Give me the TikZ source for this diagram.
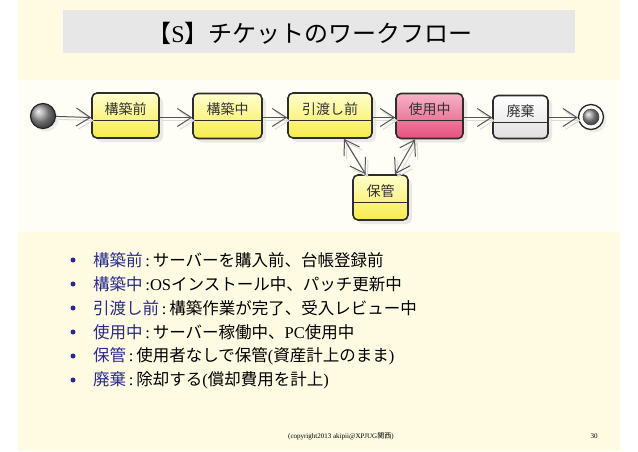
\documentclass[tikz,border=0pt]{standalone}
\usepackage{fontspec}
\setmainfont{Liberation Serif}
\newfontfamily\jp{Noto Sans CJK JP}
\usetikzlibrary{arrows.meta,shadows}
\definecolor{cream}{RGB}{255,251,226}
\definecolor{diagbg}{RGB}{255,254,246}
\definecolor{titlegrey}{RGB}{231,231,231}
\definecolor{lblue}{RGB}{40,42,140}
\definecolor{yeltop}{RGB}{255,255,205}
\definecolor{yelbot}{RGB}{247,235,75}
\definecolor{pinktop}{RGB}{246,178,200}
\definecolor{pinkbot}{RGB}{230,80,125}
\definecolor{edgecol}{RGB}{45,45,45}
\definecolor{arrcol}{RGB}{85,85,85}
\tikzset{
  stbox/.style={draw=edgecol, line width=1.6pt, rounded corners=5pt,
    minimum height=45pt, inner sep=0pt,
    drop shadow={shadow xshift=4pt, shadow yshift=-4pt, fill=black!16}},
  yel/.style={top color=yeltop, bottom color=yelbot},
  pnk/.style={top color=pinktop, bottom color=pinkbot},
  wht/.style={top color=white, bottom color=black!12},
  lbl/.style={font=\jp\fontsize{14}{16}\selectfont, text=black!80, inner sep=0pt},
  divider/.style={draw=edgecol, line width=1pt},
  tip/.tip={Straight Barb[length=14pt,width=18pt,line width=1pt]},
  flow/.style={draw=arrcol, line width=1pt, -tip},
  flowshadow/.style={draw=black!14, line width=1pt, -tip, transform canvas={xshift=2.5pt,yshift=-3pt}},
  item/.style={anchor=west, inner sep=0pt, font=\fontsize{16.5}{18}\selectfont},
  bul/.style={circle, inner sep=0pt, minimum size=5pt, fill=lblue},
}
\begin{document}
\begin{tikzpicture}[x=1pt,y=-1pt]
\useasboundingbox (0,0) rectangle (638,451);
\fill[white] (0,0) rectangle (638,451);
\fill[cream] (18,0) rectangle (620,451);
\fill[titlegrey] (63,10) rectangle (575,53);
\node[inner sep=0pt, font=\fontsize{24}{26}\selectfont] (title) at (310,33)
  {{\jp 【}S{\jp 】チケットのワークフロー}};
\fill[diagbg] (18,80) rectangle (620,232);

% start / end
\node[circle, minimum size=25pt, inner sep=0pt, draw=black!85, line width=1.2pt,
  ball color=black!40, drop shadow={shadow xshift=3pt, shadow yshift=-3pt, fill=black!14}] (s) at (43,116) {};
\node[circle, minimum size=25pt, inner sep=0pt, draw=black!85, line width=1.3pt, fill=white,
  drop shadow={shadow xshift=3pt, shadow yshift=-3pt, fill=black!14}] (e) at (591,117) {};
\node[circle, minimum size=16pt, inner sep=0pt, draw=black!70, line width=0.6pt, ball color=black!40] (ei) at (e) {};

% states
\node[stbox, yel, minimum width=67pt] (n1) at (125.5,115.5) {};
\node[stbox, yel, minimum width=69pt] (n2) at (227.5,116) {};
\node[stbox, yel, minimum width=84pt] (n3) at (330,115.5) {};
\node[stbox, pnk, minimum width=67pt] (n4) at (429.5,116) {};
\node[stbox, wht, minimum width=55pt, minimum height=43pt] (n5) at (520.5,117) {};
\node[stbox, yel, minimum width=55pt] (hk) at (380.5,197.5) {};

\foreach \n in {n1,n2,n3,n4,n5,hk}{
  \draw[divider] ([yshift=-28pt]\n.north west) -- ([yshift=-28pt]\n.north east);
}
\node[lbl] (t1) at ([yshift=-16.5pt]n1.north) {構築前};
\node[lbl] (t2) at ([yshift=-16.5pt]n2.north) {構築中};
\node[lbl] (t3) at ([yshift=-16.5pt]n3.north) {引渡し前};
\node[lbl] (t4) at ([yshift=-16.5pt]n4.north) {使用中};
\node[lbl] (t5) at ([yshift=-16.5pt]n5.north) {廃棄};
\node[lbl] (t6) at ([yshift=-16.5pt]hk.north) {保管};

% named connector end points on the flow line (y = 117.5)
\coordinate (c1) at ([yshift=-2pt]n1.west);
\coordinate (c1e) at ([yshift=-2pt]n1.east);
\coordinate (c2) at (c1e -| n2.west);
\coordinate (c2e) at (c1e -| n2.east);
\coordinate (c3) at (c1e -| n3.west);
\coordinate (c3e) at (c1e -| n3.east);
\coordinate (c4) at (c1e -| n4.west);
\coordinate (c4e) at (c1e -| n4.east);
\coordinate (c5) at (c1e -| n5.west);
\coordinate (c5e) at (c1e -| n5.east);
\coordinate (c6) at (c1e -| e.west);

\foreach \st in {flowshadow,flow}{
  \draw[\st] (s) -- (c1);
  \draw[\st] (c1e) -- (c2);
  \draw[\st] (c2e) -- (c3);
  \draw[\st] (c3e) -- (c4);
  \draw[\st] (c4e) -- (c5);
  \draw[\st] (c5e) -- (c6);
  \draw[\st, tip-tip] ([xshift=14pt]n3.south) -- ([xshift=-15pt]hk.north);
  \draw[\st, tip-tip] ([xshift=-14.5pt]n4.south) -- ([xshift=14.5pt]hk.north);
}

% list
\foreach \yy/\nm in {260/b1,284/b2,308/b3,332/b4,356/b5,380/b6}{
  \node[bul] (\nm) at (73,\yy) {};
}
\node[item] (l1) at (93,260) {{\jp\color{lblue}構築前}\,:\,{\jp サーバーを購入前、台帳登録前}};
\node[item] (l2) at (93,284) {{\jp\color{lblue}構築中}\,:OS{\jp インストール中、パッチ更新中}};
\node[item] (l3) at (93,308) {{\jp\color{lblue}引渡し前}\,:\,{\jp 構築作業が完了、受入レビュー中}};
\node[item] (l4) at (93,332) {{\jp\color{lblue}使用中}\,:\,{\jp サーバー稼働中、}PC{\jp 使用中}};
\node[item] (l5) at (93,356) {{\jp\color{lblue}保管}\,:\,{\jp 使用者なしで保管}({\jp 資産計上のまま})};
\node[item] (l6) at (93,380) {{\jp\color{lblue}廃棄}\,:\,{\jp 除却する}({\jp 償却費用を計上})};

% footer
\node[anchor=west, inner sep=0pt, font=\fontsize{7}{8}\selectfont] (cp) at (288,436)
  {(copyright2013 akipii@XPJUG{\jp 関西})};
\node[inner sep=0pt, font=\fontsize{7}{8}\selectfont] (pg) at (594,436) {30};
\end{tikzpicture}
\end{document}
